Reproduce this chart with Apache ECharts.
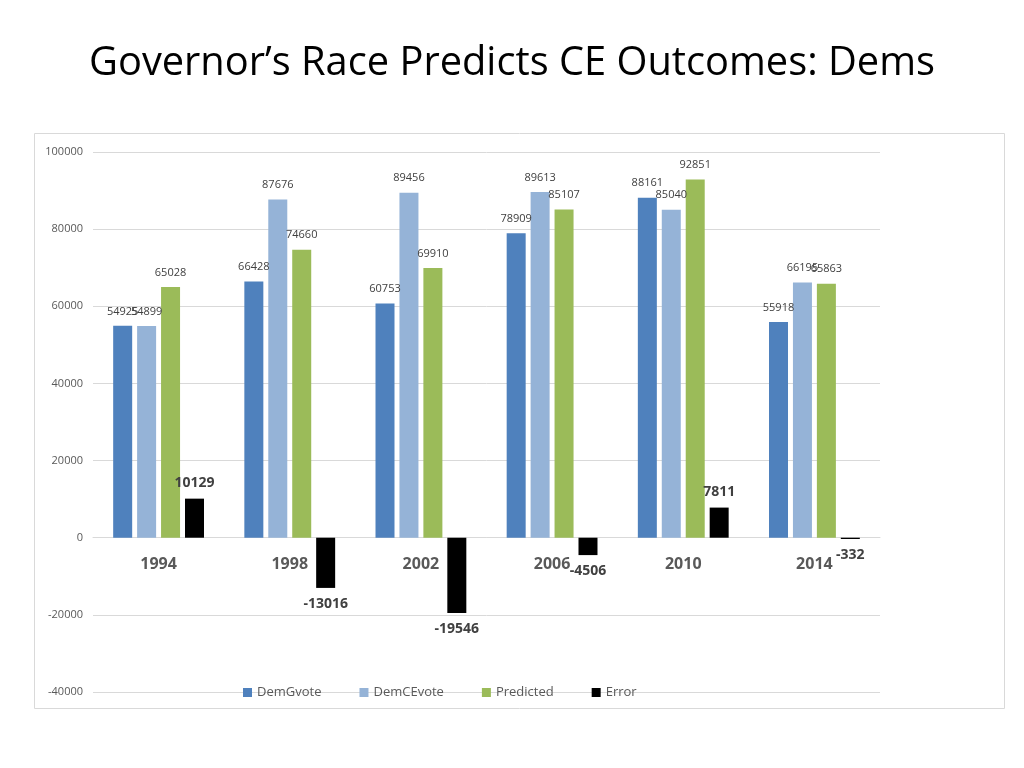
<!DOCTYPE html>
<html><head><meta charset="utf-8">
<script src="https://cdn.jsdelivr.net/npm/echarts@6/dist/echarts.min.js"></script>
<style>html,body{margin:0;padding:0;background:#fff}#c{width:1024px;height:768px}</style>
</head><body><div id="c"></div>
<script>
const categories = ['1994','1998','2002','2006','2010','2014'];
const demGvote = [54925, 66428, 60753, 78909, 88161, 55918];
const demCEvote = [54899, 87676, 89456, 89613, 85040, 66195];
const predicted = [65028, 74660, 69910, 85107, 92851, 65863];
const errorVals = [10129, -13016, -19546, -4506, 7811, -332];
const yTicks = [-40000, -20000, 0, 20000, 40000, 60000, 80000, 100000];

const chart = echarts.init(document.getElementById('c'));
const smallLabel = {show: true, position: 'top', distance: 9, fontSize: 11, color: '#404040', fontFamily: 'Open Sans'};
const barW = 19;
chart.setOption({
  animation: false,
  title: {text: 'Governor’s Race Predicts CE Outcomes: Dems', left: 'center', top: 39,
    textStyle: {fontFamily: 'Open Sans', fontWeight: 'normal', fontSize: 39.8, color: '#000'}},
  graphic: [{type: 'rect', shape: {x: 34.5, y: 133.5, width: 970, height: 575},
    style: {fill: 'none', stroke: '#d9d9d9', lineWidth: 1}, silent: true}],
  grid: {left: 93, right: 144, top: 152, bottom: 76, containLabel: false},
  legend: {left: 238, top: 681, itemWidth: 9, itemHeight: 9, itemGap: 38, icon: 'rect',
    textStyle: {fontSize: 13, color: '#595959', fontFamily: 'Open Sans'},
    data: ['DemGvote','DemCEvote','Predicted','Error']},
  xAxis: {type: 'category', data: categories,
    axisLine: {show: true, onZero: true, lineStyle: {color: '#d9d9d9'}}, axisTick: {show: false},
    axisLabel: {margin: -136, fontSize: 16, fontWeight: 'bold', color: '#595959', fontFamily: 'Open Sans'}},
  yAxis: {type: 'value', min: yTicks[0], max: yTicks[yTicks.length-1], interval: 20000,
    axisLine: {show: false}, axisTick: {show: false},
    axisLabel: {fontSize: 11, color: '#595959', margin: 10, fontFamily: 'Open Sans', formatter: v => String(v)},
    splitLine: {lineStyle: {color: '#d9d9d9'}}},
  series: [
    {name: 'DemGvote', type: 'bar', data: demGvote, barWidth: barW, barGap: '26%', itemStyle: {color: '#4F81BD'}, label: smallLabel},
    {name: 'DemCEvote', type: 'bar', data: demCEvote, barWidth: barW, barGap: '26%', itemStyle: {color: '#95B3D7'}, label: smallLabel},
    {name: 'Predicted', type: 'bar', data: predicted, barWidth: barW, barGap: '26%', itemStyle: {color: '#9BBB59'}, label: smallLabel},
    {name: 'Error', type: 'bar', barWidth: barW, barGap: '26%', itemStyle: {color: '#000'},
      data: errorVals.map(v => ({value: v, label: {position: v >= 0 ? 'top' : 'bottom'}})),
      label: {show: true, distance: 9, fontSize: 14, fontWeight: 'bold', color: '#404040', fontFamily: 'Open Sans'}}
  ]
});
</script></body></html>
